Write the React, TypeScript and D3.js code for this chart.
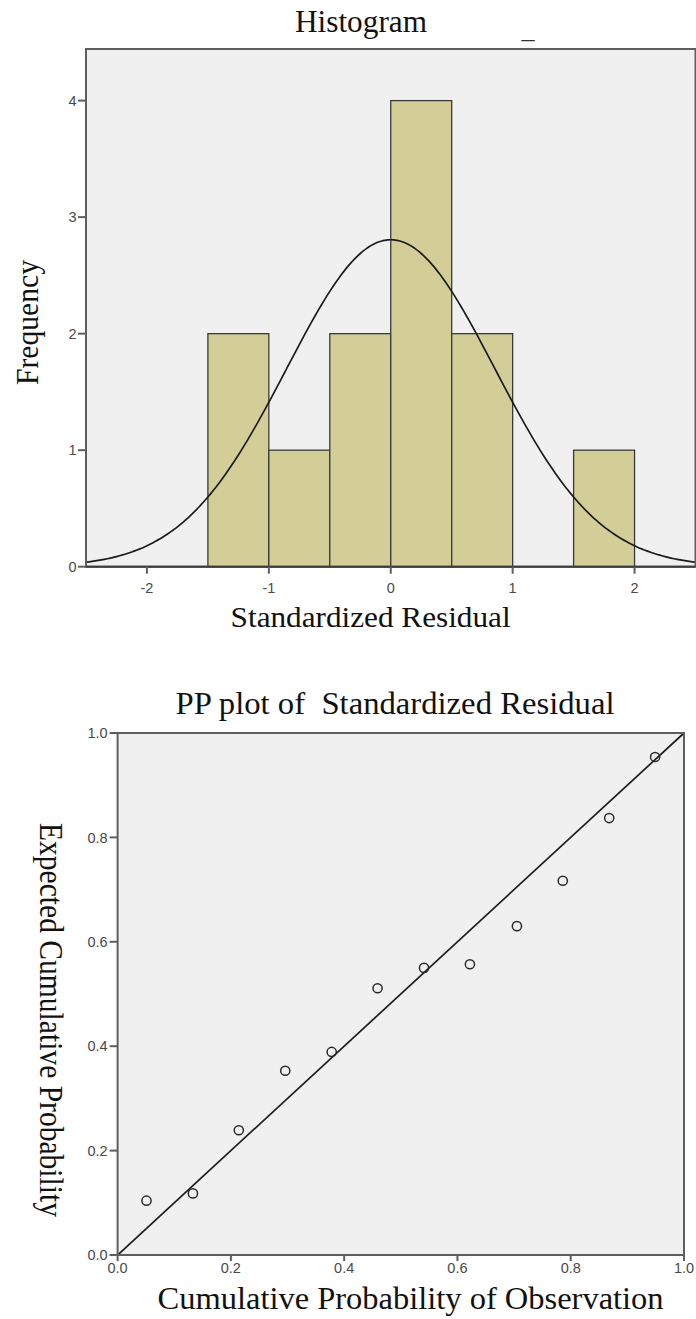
import React from "react";
import * as d3 from "d3";

// ---------- Histogram data ----------
const binStarts = [-1.5, -1.0, -0.5, 0.0, 0.5, 1.0, 1.5];
const binCounts = [2, 1, 2, 4, 2, 0, 1];
const binWidth = 0.5;
const histXTicks = [-2, -1, 0, 1, 2];
const histYTicks = [0, 1, 2, 3, 4];
const normalMean = 0.0;
const normalSd = 0.853;
const sampleN = 12;

// ---------- PP plot data ----------
const ppObserved = [0.051, 0.133, 0.214, 0.296, 0.378, 0.459, 0.541, 0.622, 0.705, 0.786, 0.868, 0.949];
const ppExpected = [0.104, 0.118, 0.239, 0.353, 0.389, 0.511, 0.550, 0.557, 0.630, 0.717, 0.837, 0.954];
const ppTicks = [0, 0.2, 0.4, 0.6, 0.8, 1.0];

const SERIF = "'Liberation Serif', 'Times New Roman', serif";
const SANS = "'Liberation Sans', Arial, sans-serif";
const BG = "#f0f0f0";
const FRAME = "#5e5e5e";
const TICKTXT = "#4a4a4a";

export default function App() {
  // Histogram scales
  const hx = d3.scaleLinear().domain([-2.5, 2.5]).range([86, 695.5]);
  const hy = d3.scaleLinear().domain([0, 4.443]).range([566.7, 49]);

  const curvePts = d3.range(0, 201).map((i) => {
    const x = -2.5 + (5 * i) / 200;
    const dens =
      (sampleN * binWidth) / (normalSd * Math.sqrt(2 * Math.PI)) *
      Math.exp(-((x - normalMean) ** 2) / (2 * normalSd * normalSd));
    return [x, dens] as [number, number];
  });
  const curve = d3
    .line<[number, number]>()
    .x((d) => hx(d[0]))
    .y((d) => hy(d[1]))
    .curve(d3.curveBasis)(curvePts) as string;

  // PP scales
  const px = d3.scaleLinear().domain([0, 1]).range([117.6, 684]);
  const py = d3.scaleLinear().domain([0, 1]).range([1255, 733]);

  const hL = hx(-2.5), hR = hx(2.5), hT = hy(4.443), hB = hy(0);
  const pL = px(0), pR = px(1), pT = py(1), pB = py(0);

  return (
    <svg
      width={696}
      height={1319}
      style={{ position: "absolute", left: 0, top: 0, background: "#ffffff" }}
    >
      <rect x={0} y={0} width={696} height={1319} fill="#ffffff" />

      {/* ===== Histogram ===== */}
      <text x={361} y={31.5} fontFamily={SERIF} fontSize={31} textAnchor="middle" fill="#111" textLength={132} lengthAdjust="spacingAndGlyphs">
        Histogram
      </text>
      <text x={521.5} y={38} fontFamily={SERIF} fontSize={26} fill="#333">
        _
      </text>

      <rect x={hL} y={hT} width={hR - hL} height={hB - hT} fill={BG} />
      {binStarts.map((b, i) =>
        binCounts[i] > 0 ? (
          <rect
            key={i}
            x={hx(b)}
            y={hy(binCounts[i])}
            width={hx(b + binWidth) - hx(b)}
            height={hy(0) - hy(binCounts[i])}
            fill="#d3ce97"
            stroke="#3a3a3a"
            strokeWidth={1.3}
          />
        ) : null
      )}
      <path d={curve} fill="none" stroke="#1c1c1c" strokeWidth={1.7} />
      <rect x={hL} y={hT} width={hR - hL} height={hB - hT} fill="none" stroke={FRAME} strokeWidth={2} />
      <line x1={hL} x2={hR} y1={hB} y2={hB} stroke="#3c3c3c" strokeWidth={2} />

      {histYTicks.map((t) => (
        <g key={"hy" + t}>
          <line x1={hL - 8} x2={hL} y1={hy(t)} y2={hy(t)} stroke={FRAME} strokeWidth={2} />
          <text x={hL - 9.5} y={hy(t)} dy="0.36em" fontFamily={SANS} fontSize={14.5} textAnchor="end" fill={TICKTXT}>
            {t}
          </text>
        </g>
      ))}
      {histXTicks.map((t) => (
        <g key={"hx" + t}>
          <line x1={hx(t)} x2={hx(t)} y1={hB} y2={hB + 7} stroke={FRAME} strokeWidth={2} />
          <text x={hx(t)} y={592.5} fontFamily={SANS} fontSize={14.5} textAnchor="middle" fill={TICKTXT}>
            {t}
          </text>
        </g>
      ))}
      <text x={370.6} y={627} fontFamily={SERIF} fontSize={30} textAnchor="middle" fill="#111" textLength={280} lengthAdjust="spacingAndGlyphs">
        Standardized Residual
      </text>
      <text
        transform={`translate(37.5, 322.5) rotate(-90)`}
        fontFamily={SERIF}
        fontSize={31}
        textAnchor="middle"
        fill="#111"
        textLength={125}
        lengthAdjust="spacingAndGlyphs"
      >
        Frequency
      </text>

      {/* ===== PP plot ===== */}
      <text x={395} y={714} fontFamily={SERIF} fontSize={32} textAnchor="middle" fill="#111" textLength={439} lengthAdjust="spacingAndGlyphs" style={{ whiteSpace: "pre" }}>
        {"PP plot of  Standardized Residual"}
      </text>

      <rect x={pL} y={pT} width={pR - pL} height={pB - pT} fill={BG} />
      <line x1={px(0)} y1={py(0)} x2={px(1)} y2={py(1)} stroke="#1c1c1c" strokeWidth={1.7} />
      {ppObserved.map((o, i) => (
        <circle key={"pp" + i} cx={px(o)} cy={py(ppExpected[i])} r={4.6} fill="none" stroke="#2a2a2a" strokeWidth={1.5} />
      ))}
      <rect x={pL} y={pT} width={pR - pL} height={pB - pT} fill="none" stroke={FRAME} strokeWidth={2} />

      {ppTicks.map((t) => (
        <g key={"py" + t}>
          <line x1={pL - 8} x2={pL} y1={py(t)} y2={py(t)} stroke={FRAME} strokeWidth={2} />
          <text x={pL - 10} y={py(t)} dy="0.36em" fontFamily={SANS} fontSize={14.5} textAnchor="end" fill={TICKTXT}>
            {t.toFixed(1)}
          </text>
        </g>
      ))}
      {ppTicks.map((t) => (
        <g key={"px" + t}>
          <line x1={px(t)} x2={px(t)} y1={pB} y2={pB + 6} stroke={FRAME} strokeWidth={2} />
          <text x={px(t)} y={1272.5} fontFamily={SANS} fontSize={14.5} textAnchor="middle" fill={TICKTXT}>
            {t.toFixed(1)}
          </text>
        </g>
      ))}
      <text x={410.6} y={1309} fontFamily={SERIF} fontSize={31} textAnchor="middle" fill="#111" textLength={506} lengthAdjust="spacingAndGlyphs">
        Cumulative Probability of Observation
      </text>
      <text
        transform={`translate(40, 1020) rotate(90)`}
        fontFamily={SERIF}
        fontSize={33}
        textAnchor="middle"
        fill="#111"
        textLength={394}
        lengthAdjust="spacingAndGlyphs"
      >
        Expected Cumulative Probability
      </text>
    </svg>
  );
}
